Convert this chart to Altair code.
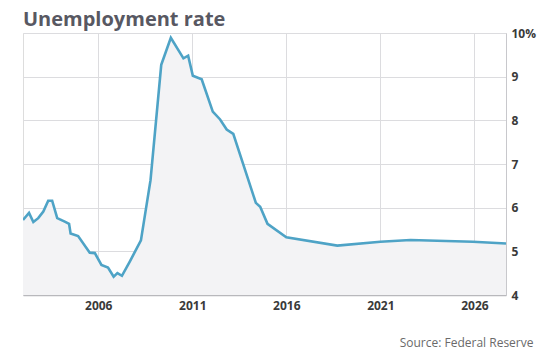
import altair as alt
import pandas as pd

years = [2002.0, 2002.32, 2002.55, 2002.81, 2003.08, 2003.34, 2003.55, 2003.82, 2004.22,
         2004.45, 2004.53, 2004.93, 2005.55, 2005.82, 2006.17, 2006.52, 2006.82, 2007.02,
         2007.26, 2007.67, 2008.27, 2008.78, 2009.35, 2009.86, 2010.53, 2010.78, 2011.03,
         2011.5, 2012.09, 2012.48, 2012.83, 2013.18, 2014.38, 2014.61, 2015.0, 2016.0,
         2018.71, 2021.0, 2022.6, 2025.92, 2027.68]
rates = [5.72, 5.88, 5.67, 5.76, 5.91, 6.16, 6.16, 5.76, 5.68, 5.63, 5.41, 5.35, 4.97,
         4.96, 4.69, 4.63, 4.42, 4.50, 4.44, 4.76, 5.25, 6.63, 9.27, 9.89, 9.42, 9.48,
         9.02, 8.94, 8.20, 8.02, 7.79, 7.69, 6.11, 6.02, 5.63, 5.32, 5.13, 5.22, 5.26,
         5.22, 5.18]
x_ticks = [2006, 2011, 2016, 2021, 2026]
y_ticks = [4, 5, 6, 7, 8, 9, 10]
x_domain = [2002.0, 2027.68]
y_domain = [4, 10]
title_text = ["Unemployment rate"]

df = pd.DataFrame({"year": years, "rate": rates, "base": [y_domain[0]] * len(years)})
title_df = pd.DataFrame({"t": title_text})

FONT = "Open Sans"

x_enc = alt.X(
    "year:Q",
    scale=alt.Scale(domain=x_domain, nice=False, zero=False),
    axis=alt.Axis(
        values=x_ticks, format="d", grid=True, gridColor="#dcdcdf", ticks=False,
        domainColor="#b8b8bc", domainWidth=1.5, labelFont=FONT, labelFontWeight="bold",
        labelFontSize=12, labelColor="#3a3a3a", labelPadding=5,
        title="Source: Federal Reserve", titleFont=FONT, titleFontWeight="normal",
        titleFontSize=12, titleColor="#6a6a6a", titleAnchor="end", titleAlign="right",
        titleX=510, titleY=47, titleBaseline="middle",
    ),
)
y_enc = alt.Y(
    "rate:Q",
    scale=alt.Scale(domain=y_domain, nice=False, zero=False),
    axis=alt.Axis(
        orient="right", values=y_ticks, grid=True, gridColor="#dcdcdf", ticks=False,
        domainColor="#c8c8cc", labelFont=FONT, labelFontWeight="bold", labelFontSize=12,
        labelColor="#3a3a3a", labelPadding=5, title=None,
        labelExpr="datum.value == 10 ? '10%' : datum.label",
    ),
)

area = alt.Chart(df).mark_area(color="#f3f3f5", clip=True).encode(
    x=x_enc, y=y_enc, y2="base:Q"
)
line = alt.Chart(df).mark_line(color="#4ea3c6", strokeWidth=2.6, clip=True).encode(
    x="year:Q", y="rate:Q"
)
title = alt.Chart(title_df).mark_text(
    font=FONT, fontWeight="bold", fontSize=20, color="#585862",
    align="left", baseline="alphabetic",
).encode(text="t:N", x=alt.value(0), y=alt.value(-7))

chart = (
    alt.layer(area, line, title)
    .properties(
        width=483, height=262,
        autosize=alt.AutoSizeParams(type="none"),
        padding={"left": 15, "top": 25, "right": 35, "bottom": 60},
    )
    .configure_view(stroke="#c8c8cc", strokeWidth=1)
    .configure(background="white")
)

chart.save("out.html", embed_options={"renderer": "svg", "actions": False})
